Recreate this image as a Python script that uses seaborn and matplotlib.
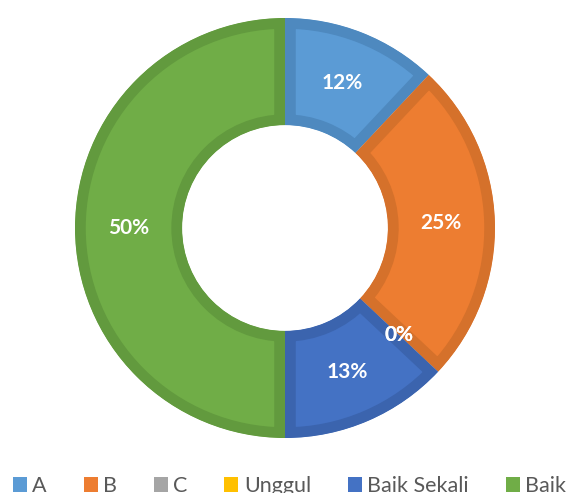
import numpy as np
import matplotlib
matplotlib.use("Agg")
import matplotlib.pyplot as plt
from matplotlib.patches import Patch
import seaborn as sns

categories = ["A", "B", "C", "Unggul", "Baik Sekali", "Baik"]
percentages = [12, 25, 0, 0, 13, 50]
fill_colors = ["#5B9BD5", "#ED7D31", "#A5A5A5", "#FFC000", "#4472C4", "#70AD47"]
edge_colors = ["#4E89BF", "#D5712B", "#949494", "#E5AD00", "#3B64AE", "#629A3E"]

sns.set_style("white")
plt.rcParams["font.family"] = ["Lato", "DejaVu Sans"]

W, H = 573, 493
fig = plt.figure(figsize=(W / 100, H / 100), dpi=100)

# donut centre and radius in pixels
cx, cy, r_px = 285, 228, 210
ax = fig.add_axes([(cx - r_px) / W, (H - cy - r_px) / H, 2 * r_px / W, 2 * r_px / H])

ring_width = 0.51
wedges, _ = ax.pie(
    percentages,
    colors=fill_colors,
    startangle=90,
    counterclock=False,
    radius=1.0,
    wedgeprops=dict(width=ring_width, linewidth=15.5, joinstyle="miter"),
)
ax.set_xlim(-1, 1)
ax.set_ylim(-1, 1)
ax.set_aspect("equal")
ax.axis("off")

# border drawn on the inside only (clip the stroke to the wedge itself)
for w, ec in zip(wedges, edge_colors):
    w.set_edgecolor(ec)
    w.set_clip_on(True)
    w.set_clip_path(w)

# percentage labels at the middle of each ring segment
total = sum(percentages)
start = 0.0
label_r = 1.0 - ring_width / 2
for val in percentages:
    mid = start + val / total * 360 / 2
    ang = np.deg2rad(90 - mid)
    ax.text(label_r * np.cos(ang), label_r * np.sin(ang), f"{val}%",
            ha="center", va="center", color="white", fontsize=15,
            fontweight="bold")
    start += val / total * 360

handles = [Patch(facecolor=c, edgecolor="none") for c in fill_colors]
fig.legend(handles, categories, loc="center left", bbox_to_anchor=(13 / W, 0.014),
           ncol=6, frameon=False, fontsize=15.5, borderpad=0, borderaxespad=0,
           handlelength=0.65, handleheight=0.65, handletextpad=0.25,
           columnspacing=1.71, labelcolor="#595959")

fig.savefig("out.png", dpi=100)
